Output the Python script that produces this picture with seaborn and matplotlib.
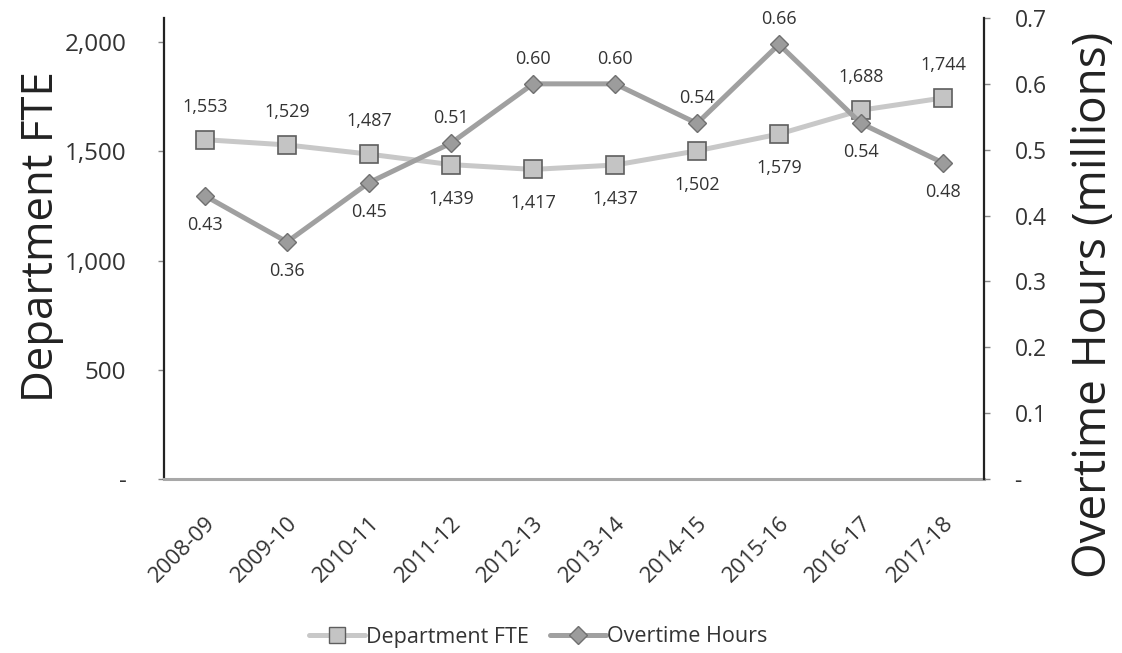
import numpy as np
import pandas as pd
import matplotlib
matplotlib.use("Agg")
import matplotlib.pyplot as plt
import seaborn as sns
from matplotlib.lines import Line2D
from matplotlib.transforms import ScaledTranslation

# Données
years = ["2008-09", "2009-10", "2010-11", "2011-12", "2012-13",
         "2013-14", "2014-15", "2015-16", "2016-17", "2017-18"]
fte = [1553, 1529, 1487, 1439, 1417, 1437, 1502, 1579, 1688, 1744]
overtime = [0.43, 0.36, 0.45, 0.51, 0.60, 0.60, 0.54, 0.66, 0.54, 0.48]
fte_ticks = [0, 500, 1000, 1500, 2000]
ot_ticks = [0, 0.1, 0.2, 0.3, 0.4, 0.5, 0.6, 0.7]

# position des étiquettes : au-dessus (1) ou en dessous (-1)
fte_side = [1, 1, 1, -1, -1, -1, -1, -1, 1, 1]
ot_side = [-1, -1, -1, 1, 1, 1, 1, 1, -1, -1]

sns.set_style("white")
plt.rcParams['font.family'] = ['Open Sans', 'DejaVu Sans']
text_col = "#333333"
fte_col = "#c8c8c8"
ot_col = "#a0a0a0"

df = pd.DataFrame({"x": np.arange(len(years)), "year": years,
                   "fte": fte, "ot": overtime})

fig = plt.figure(figsize=(11.22, 6.53), dpi=100)
ax = fig.add_axes([164 / 1122, 1 - 479 / 653, 820 / 1122, 461 / 653])
ax2 = ax.twinx()

sns.lineplot(data=df, x="x", y="fte", ax=ax, color=fte_col, linewidth=3.6,
             marker="s", markersize=13, markerfacecolor="#c4c4c4",
             markeredgecolor="#5e5e5e", markeredgewidth=1.2, zorder=3)
sns.lineplot(data=df, x="x", y="ot", ax=ax2, color=ot_col, linewidth=3.6,
             marker="D", markersize=9.5, markerfacecolor="#9c9c9c",
             markeredgecolor="#707070", markeredgewidth=1.0, zorder=3)

# Étiquettes de données
for i, v in enumerate(fte):
    dy = 33 if fte_side[i] > 0 else -34
    ax.annotate(f"{v:,}", (i, v), xytext=(0, dy),
                textcoords="offset pixels", ha="center", va="center",
                fontsize=13, color=text_col)
for i, v in enumerate(overtime):
    dy = 25 if ot_side[i] > 0 else -29
    ax2.annotate(f"{v:.2f}", (i, v), xytext=(0, dy),
                 textcoords="offset pixels", ha="center", va="center",
                 fontsize=13, color=text_col)

# Axes
ax.set_xlim(-0.5, len(years) - 0.5)
ax.set_ylim(0, 2110)
ax2.set_ylim(0, 0.7)

ax.set_xticks(df["x"])
ax.set_xticklabels(years, rotation=45, ha="right", rotation_mode="anchor",
                   fontsize=16, color=text_col)
shift = ScaledTranslation(8 / 100, 0, fig.dpi_scale_trans)
for lab in ax.get_xticklabels():
    lab.set_transform(lab.get_transform() + shift)
ax.set_xticks(np.arange(-0.5, len(years)), minor=True)
ax.tick_params(axis="x", which="major", length=0, pad=24)
ax.tick_params(axis="x", which="minor", length=7, width=1.2, color="#444444")

ax.set_yticks(fte_ticks)
ax.set_yticklabels(["-" if t == 0 else f"{t:,}" for t in fte_ticks],
                   fontsize=17.5, color=text_col)
ax.tick_params(axis="y", length=4, width=1, color="#888888", pad=23)

ax2.set_yticks(ot_ticks)
ax2.set_yticklabels(["-" if t == 0 else f"{t:.1f}" for t in ot_ticks],
                    fontsize=16.5, color=text_col)
ax2.tick_params(axis="y", length=4, width=1, color="#888888", pad=18)

ax.set_xlabel("")
ax.set_ylabel("Department FTE", fontsize=31.5, color="#222222")
ax.yaxis.set_label_coords(-0.122, 0.525)
ax2.set_ylabel("Overtime Hours (millions)", fontsize=33, color="#222222")
ax2.yaxis.set_label_coords(1.106, 0.377)

for a in (ax, ax2):
    a.spines["top"].set_visible(False)
ax.spines["right"].set_visible(False)
ax2.spines["left"].set_visible(False)
ax2.spines["bottom"].set_visible(False)
ax.spines["left"].set_color("#222222")
ax.spines["left"].set_linewidth(1.6)
ax2.spines["right"].set_color("#222222")
ax2.spines["right"].set_linewidth(1.6)
ax.spines["bottom"].set_color("#a8a8a8")
ax.spines["bottom"].set_linewidth(2.2)

# Légende en bas
handles = [
    Line2D([], [], color=fte_col, linewidth=3.6, marker="s", markersize=12,
           markerfacecolor="#c4c4c4", markeredgecolor="#5e5e5e"),
    Line2D([], [], color=ot_col, linewidth=3.6, marker="D", markersize=9,
           markerfacecolor="#9c9c9c", markeredgecolor="#707070"),
]
fig.legend(handles, ["Department FTE", "Overtime Hours"], loc="center",
           bbox_to_anchor=(538 / 1122, 1 - 637 / 653), ncol=2, frameon=False,
           fontsize=15.5, handlelength=2.6, columnspacing=1.0,
           handletextpad=0.05, labelcolor=text_col)

fig.savefig("out.png", dpi=100)
